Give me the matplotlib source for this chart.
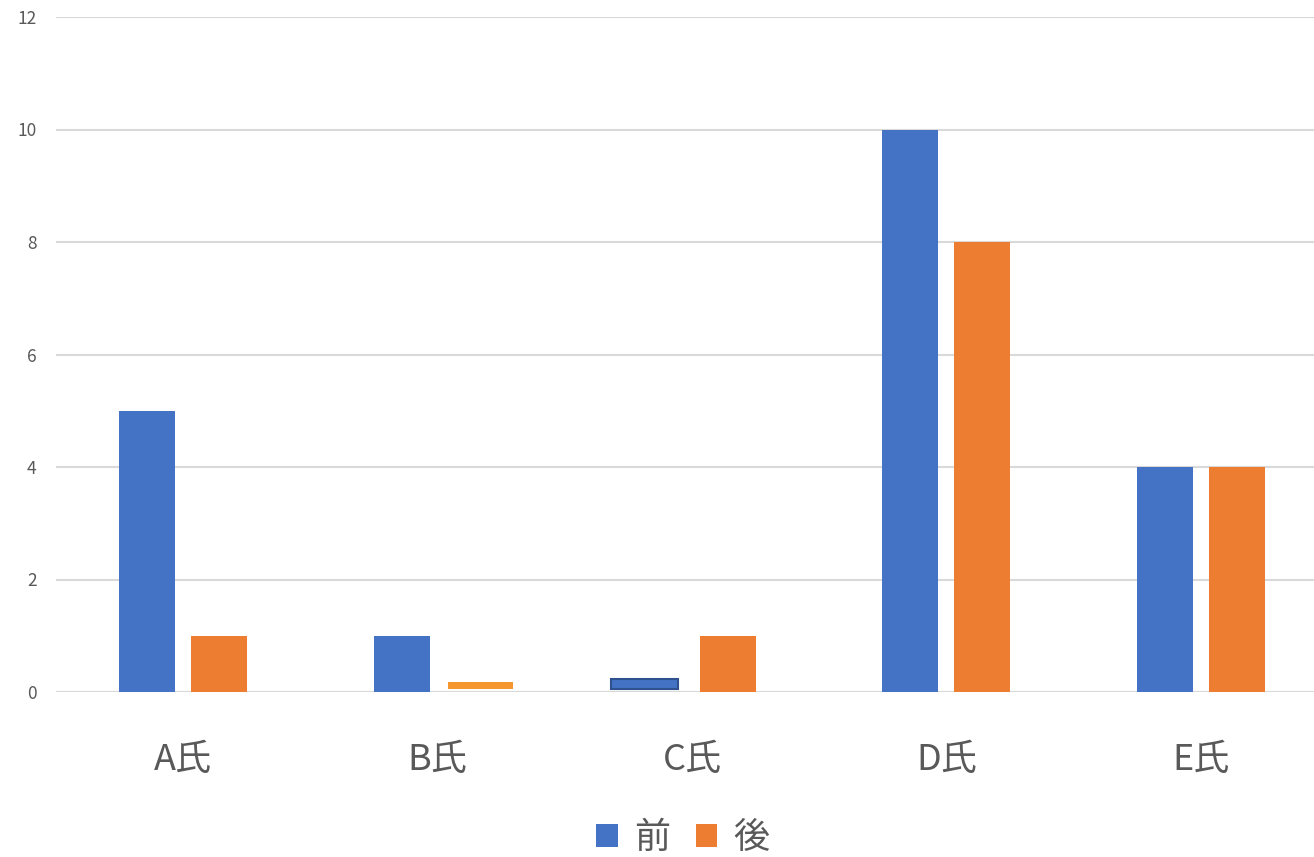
import numpy as np
import matplotlib
matplotlib.use("Agg")
import matplotlib.pyplot as plt

plt.rcParams['font.family'] = ['Noto Sans CJK JP', 'DejaVu Sans']

# categories and the two series
people = ["A氏", "B氏", "C氏", "D氏", "E氏"]
series_names = ["前", "後"]
before = [5, 1, 0.23, 10, 4]
after = [1, 0.18, 1, 8, 4]
# the two tiny bars float just above zero
before_base = [0, 0, 0.05, 0, 0]
after_base = [0, 0.05, 0, 0, 0]

blue = "#4472C4"
orange = "#ED7D31"

fig = plt.figure(figsize=(13.14, 8.57), dpi=100)
W, H = 1314, 857
ax = fig.add_axes([56 / W, 1 - 692 / H, (1314 - 56) / W, (692 - 17) / H])

x = np.arange(len(people))
# bar widths / offsets; the two floating bars are drawn a little wider
w1 = np.array([0.22, 0.22, 0.263, 0.22, 0.22])
w2 = np.array([0.22, 0.255, 0.22, 0.22, 0.22])
off1 = np.array([-0.1415, -0.1415, -0.185, -0.1415, -0.1415])
off2 = np.array([0.1415, 0.167, 0.1415, 0.1415, 0.1415])

b_heights = np.array(before) - np.array(before_base)
a_heights = np.array(after) - np.array(after_base)

bars1 = ax.bar(x + off1, b_heights, w1, bottom=before_base, color=blue,
               label=series_names[0], zorder=3)
bars2 = ax.bar(x + off2, a_heights, w2, bottom=after_base, color=orange,
               label=series_names[1], zorder=3)

# small outlined / lighter bars
bars1[2].set_edgecolor("#2F528F")
bars1[2].set_linewidth(1.5)
bars2[1].set_facecolor("#F5962E")

ax.set_ylim(0, 12)
ax.set_xlim(-0.5, 4.5 - 14 / 254.5)
ax.set_yticks(range(0, 13, 2))
ax.yaxis.grid(True, color="#D9D9D9", linewidth=1.5, zorder=0)
ax.set_axisbelow(True)

for s in ax.spines.values():
    s.set_visible(False)
ax.axhline(0, color="#D9D9D9", linewidth=1.5, zorder=2)

ax.set_xticks(x)
ax.set_xticklabels(people, fontsize=26, color="#595959")
ax.tick_params(axis="x", length=0, pad=36)
ax.tick_params(axis="y", length=0, pad=14, labelsize=12.5, labelcolor="#595959")

leg = fig.legend(handles=[bars1, bars2], labels=series_names, loc="center",
                 bbox_to_anchor=(683 / W, 1 - 838 / H), ncol=2, frameon=False,
                 fontsize=26, handlelength=0.6, handleheight=0.6,
                 handletextpad=0.45, columnspacing=0.7)
for t in leg.get_texts():
    t.set_color("#595959")

fig.savefig("out.png", dpi=100)
